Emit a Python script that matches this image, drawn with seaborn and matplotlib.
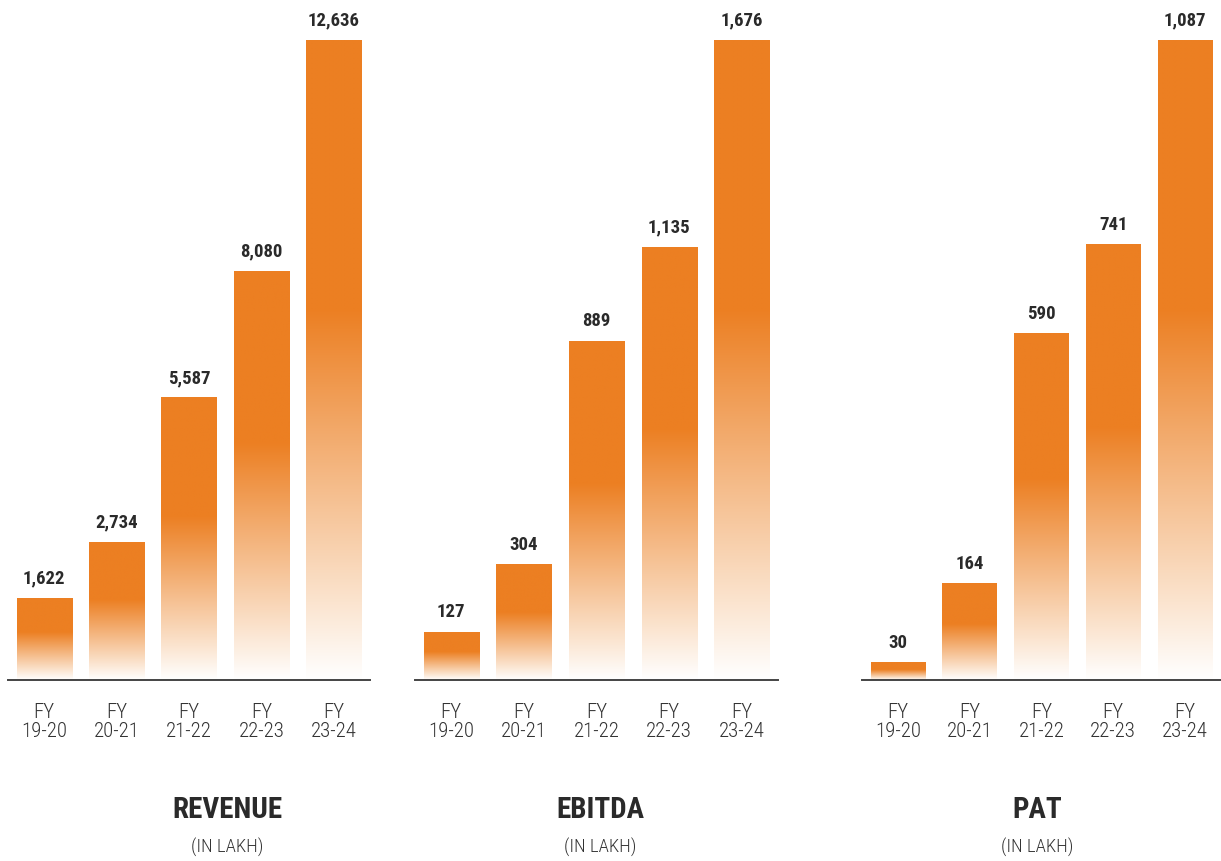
import numpy as np
import pandas as pd
import matplotlib
matplotlib.use("Agg")
import matplotlib.pyplot as plt
from matplotlib import font_manager
from matplotlib.colors import LinearSegmentedColormap
import seaborn as sns

# Financial highlights, five fiscal years (values in lakh)
years = ["FY\n19-20", "FY\n20-21", "FY\n21-22", "FY\n22-23", "FY\n23-24"]
revenue = [1622, 2734, 5587, 8080, 12636]
ebitda = [127, 304, 889, 1135, 1676]
pat = [30, 164, 590, 741, 1087]

titles = ["REVENUE", "EBITDA", "PAT"]
subtitle = "(IN LAKH)"

ORANGE = "#EC7F22"
TEXT = "#2a2a2a"


def pick_font(candidates):
    for name in candidates:
        try:
            font_manager.findfont(font_manager.FontProperties(family=name),
                                  fallback_to_default=False)
            return name
        except Exception:
            continue
    return "DejaVu Sans"


NARROW = pick_font(["Roboto Condensed", "Liberation Sans Narrow",
                    "DejaVu Sans Condensed", "Open Sans Condensed", "Roboto"])

sns.set_theme(style="white")
plt.rcParams["font.family"] = [NARROW, "DejaVu Sans"]

fig = plt.figure(figsize=(12.21, 8.62), dpi=100)

W, H = 1221, 862
panels = [
    (revenue, 8, 370, 227),
    (ebitda, 415, 778, 600),
    (pat, 862, 1221, 1037),
]
base_y = 681
top_y = 41

# gradient: white at the bar foot, full orange over the upper part
grad_cmap = LinearSegmentedColormap.from_list(
    "fade", [(0.0, "#ffffff"), (0.12, "#fbe4cf"), (0.58, ORANGE), (1.0, ORANGE)]
)
grad = np.linspace(0, 1, 256).reshape(-1, 1)

for (vals, x0, x1, tx), title in zip(panels, titles):
    ax = fig.add_axes([x0 / W, 1 - base_y / H, (x1 - x0) / W, (base_y - top_y) / H])
    df = pd.DataFrame({"year": years, "value": vals})
    sns.barplot(data=df, x="year", y="value", ax=ax, color=ORANGE,
                width=0.76, saturation=1)

    for patch, v in zip(ax.patches, vals):
        bx, by = patch.get_x(), patch.get_y()
        bw, bh = patch.get_width(), patch.get_height()
        patch.set_facecolor("none")
        patch.set_edgecolor("none")
        im = ax.imshow(grad, cmap=grad_cmap, origin="lower", aspect="auto",
                       extent=(bx, bx + bw, by, by + bh), zorder=2,
                       interpolation="bilinear")
        im.set_clip_path(patch)
        ax.annotate(f"{v:,}", (bx + bw / 2, bh), xytext=(0, 8),
                    textcoords="offset points", ha="center", va="bottom",
                    fontsize=13.5, fontweight="bold", color=TEXT,
                    annotation_clip=False)

    ax.set_xlim(-0.5, len(vals) - 0.5)
    ax.set_ylim(0, max(vals))
    ax.set_xlabel("")
    ax.set_ylabel("")
    ax.set_yticks([])
    for s in ["top", "left", "right"]:
        ax.spines[s].set_visible(False)
    ax.spines["bottom"].set_color("#444444")
    ax.spines["bottom"].set_linewidth(1.4)
    ax.tick_params(axis="x", length=0, pad=16, labelsize=15, labelcolor="#333333")
    for lbl in ax.get_xticklabels():
        lbl.set_linespacing(1.0)
        lbl.set_fontweight("light")
    ax.patch.set_alpha(0)

    fig.text(tx / W, 1 - 810 / H, title, ha="center", va="center",
             fontsize=21, fontweight="bold", color=TEXT)
    fig.text(tx / W, 1 - 847 / H, subtitle, ha="center", va="center",
             fontsize=13.5, fontweight="light", color="#333333")

fig.savefig("out.png", dpi=100, facecolor="white")
